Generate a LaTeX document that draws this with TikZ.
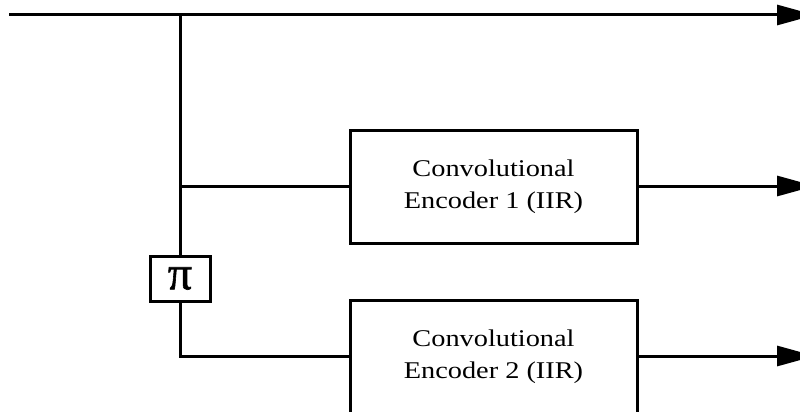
\documentclass[tikz,border=0pt]{standalone}
\usepackage{fontspec}
\setmainfont{Liberation Serif}
\newfontfamily\boxfont[FakeStretch=1.18]{Liberation Serif}
\newfontfamily\pifont[FakeBold=1.2]{Liberation Serif}
\usetikzlibrary{arrows.meta}
\tikzset{>={Triangle[width=20pt,length=38pt]}}

\begin{document}
\begin{tikzpicture}[x=1pt,y=-1pt,line width=3pt,
  encbox/.style={draw,minimum width=287pt,minimum height=113pt,
    align=center,inner sep=0pt,font=\boxfont\fontsize{24}{32}\selectfont,
    execute at begin node={\rule{0pt}{28.5pt}}},
  pibox/.style={draw,minimum width=60pt,minimum height=45pt,
    inner sep=0pt,font=\fontsize{48}{48}\pifont}]

\useasboundingbox (0,0) rectangle (800,412);
\clip (0,0) rectangle (800,412); %% box 2 and arrow tips run off the page

\coordinate (in) at (9,15);
\coordinate (split) at (180,15);
\coordinate (tap) at (180,186);
\coordinate (corner) at (180,356);
\coordinate (out0) at (815,15);
\coordinate (out1) at (815,186);
\coordinate (out2) at (815,356);

\node[encbox] (enc1) at (493.5,186.5) {Convolutional\\Encoder 1 (IIR)};
\node[encbox] (enc2) at (493.5,356.5) {Convolutional\\Encoder 2 (IIR)};
\node[pibox, fill=white] (perm) at (180,278.5) {π};

\draw[->] (in)--(out0);
\draw (split)--(perm.north);
\draw (tap)--(enc1.west |- tap);
\draw (perm.south)--(corner)--(enc2.west |- corner);
\draw[->] (enc1.east |- out1)--(out1);
\draw[->] (enc2.east |- out2)--(out2);

\end{tikzpicture}
\end{document}
